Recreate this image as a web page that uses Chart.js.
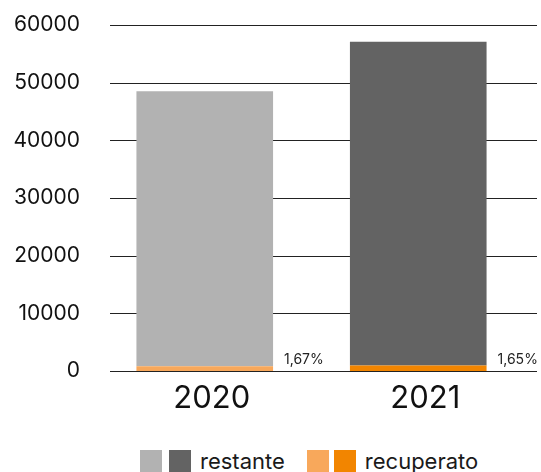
<!DOCTYPE html>
<html>
<head>
<meta charset="utf-8">
<script src="https://cdn.jsdelivr.net/npm/chart.js@4"></script>
<style>
    body { margin: 0; background: #fff; font-family: Inter, sans-serif; }
    .wrap { position: relative; width: 541px; height: 472px; }
    .legend { position: absolute; left: 140px; top: 450px; height: 22px; display: flex; align-items: center; font-size: 22px; color: #1a1a1a; }
    .legend .box { width: 22px; height: 22px; display: inline-block; }
</style>
</head>
<body>
<div class="wrap">
    <canvas id="chart" width="541" height="432"></canvas>
    <div class="legend">
        <span class="box" style="background:#b2b2b2"></span>
        <span class="box" style="background:#636363; margin-left:7px"></span>
        <span style="margin-left:9px">restante</span>
        <span class="box" style="background:#f8a85b; margin-left:22px"></span>
        <span class="box" style="background:#f28500; margin-left:5px"></span>
        <span style="margin-left:9px">recuperato</span>
    </div>
</div>
<script>
const years = ['2020', '2021'];
const recuperato = [810, 942];
const restante = [47690, 56160];
const pctLabels = ['1,67%', '1,65%'];
const yTicks = [0, 10000, 20000, 30000, 40000, 50000, 60000];

// grid lines drawn under the bars, a bit shifted right of the plot area
const gridLines = {
    id: 'gridLines',
    beforeDatasetsDraw(chart) {
        const { ctx, scales: { y } } = chart;
        ctx.save();
        ctx.strokeStyle = '#222';
        ctx.lineWidth = 1;
        yTicks.forEach((v) => {
            const py = Math.round(y.getPixelForValue(v)) + 0.5;
            ctx.beginPath();
            ctx.moveTo(110, py);
            ctx.lineTo(537, py);
            ctx.stroke();
        });
        ctx.restore();
    }
};

// percentage labels to the right of each bar
const pctPlugin = {
    id: 'pctPlugin',
    afterDatasetsDraw(chart) {
        const { ctx, scales: { y } } = chart;
        const meta = chart.getDatasetMeta(0);
        ctx.save();
        ctx.font = '14px Inter';
        ctx.fillStyle = '#222';
        ctx.textAlign = 'left';
        ctx.textBaseline = 'alphabetic';
        meta.data.forEach((bar, i) => {
            ctx.fillText(pctLabels[i], bar.x + bar.width / 2 + 11, y.getPixelForValue(0) - 7);
        });
        ctx.restore();
    }
};

const ctx = document.getElementById('chart');
new Chart(ctx, {
    type: 'bar',
    data: {
        labels: years,
        datasets: [
            {
                label: 'recuperato',
                data: recuperato,
                backgroundColor: ['#f8a85b', '#f28500'],
            },
            {
                label: 'restante',
                data: restante,
                backgroundColor: ['#b2b2b2', '#636363'],
            },
        ]
    },
    options: {
        responsive: false,
        animation: false,
        layout: {
            padding: { top: 25, right: 16, left: 0, bottom: 0 }
        },
        datasets: {
            bar: {
                barPercentage: 0.8,
                categoryPercentage: 0.8,
            }
        },
        scales: {
            x: {
                stacked: true,
                border: { display: false },
                grid: { display: false, drawTicks: false },
                ticks: {
                    color: '#111',
                    padding: 9,
                    labelOffset: 7,
                    font: { size: 31, family: 'Inter' }
                },
                afterFit(scale) { scale.height = 61; }
            },
            y: {
                stacked: true,
                min: 0,
                max: 60000,
                border: { display: false },
                grid: { display: false, drawTicks: false },
                ticks: {
                    stepSize: 10000,
                    color: '#111',
                    padding: 18,
                    font: { size: 21, family: 'Inter' },
                    callback: (value) => String(value)
                },
                afterFit(scale) {
                    scale.width = 98;
                    scale.paddingTop = 0;
                    scale.paddingBottom = 0;
                }
            }
        },
        plugins: {
            legend: { display: false },
            tooltip: { enabled: false },
            title: { display: false }
        }
    },
    plugins: [gridLines, pctPlugin]
});
</script>
</body>
</html>
